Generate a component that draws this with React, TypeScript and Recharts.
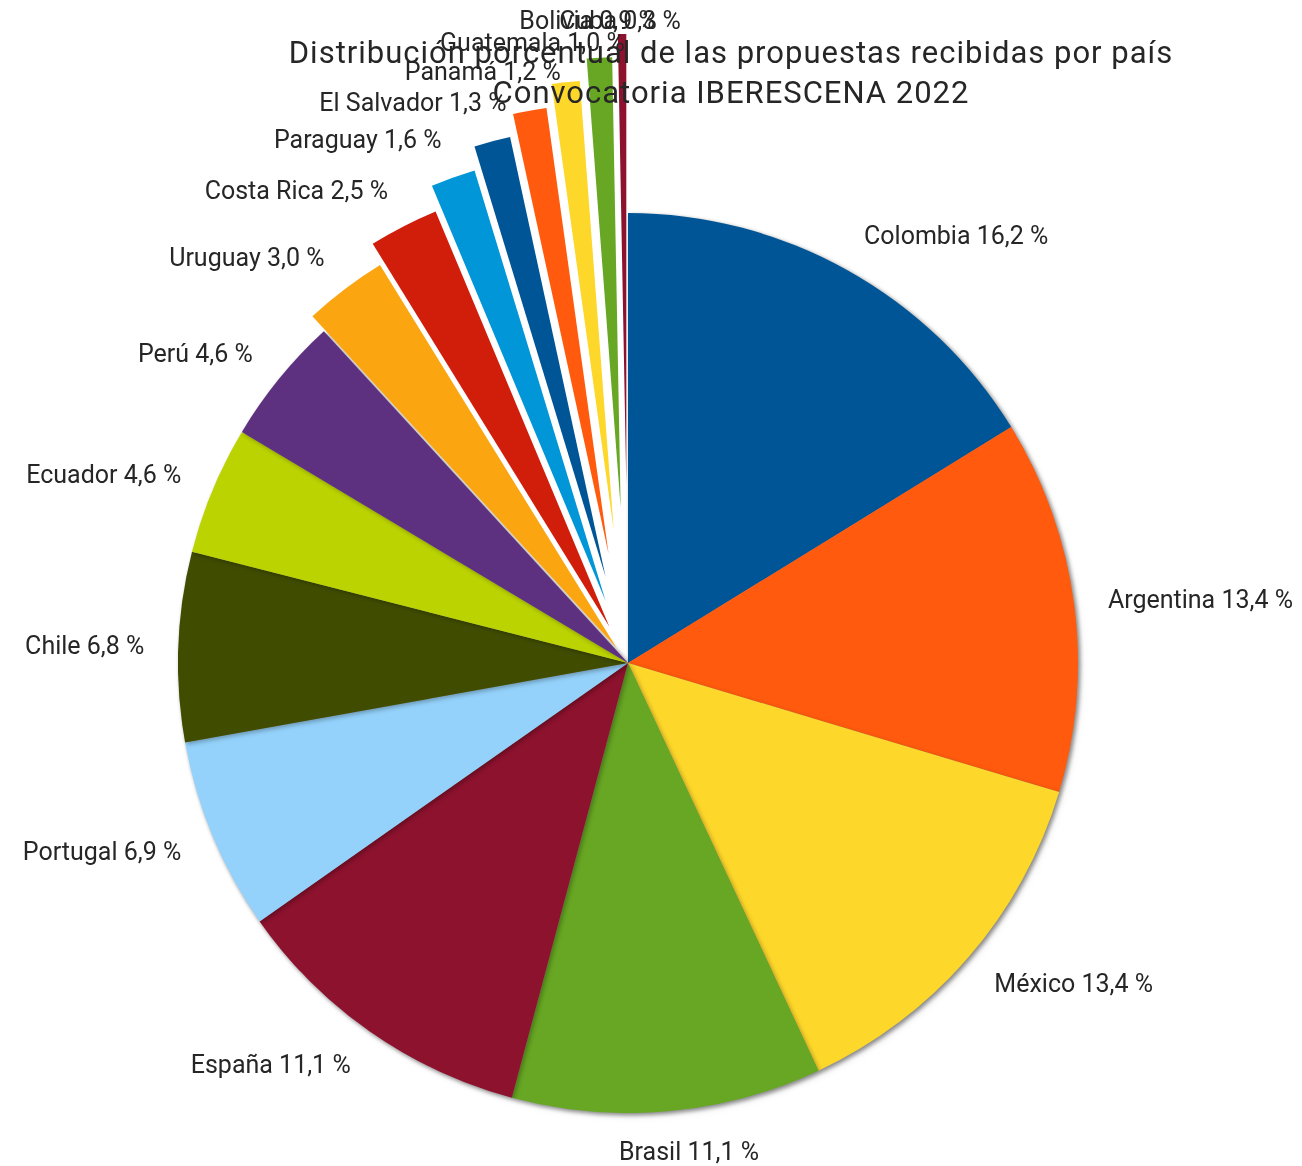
import React from 'react'
import { PieChart, Pie, Cell, Sector } from 'recharts'

const COUNTRIES = [
  'Colombia', 'Argentina', 'México', 'Brasil', 'España', 'Portugal', 'Chile', 'Ecuador', 'Perú',
  'Uruguay', 'Costa Rica', 'Paraguay', 'El Salvador', 'Panamá', 'Guatemala', 'Bolivia', 'Cuba',
]
const SHARES = [16.2, 13.4, 13.4, 11.1, 11.1, 6.9, 6.8, 4.6, 4.6, 3.0, 2.5, 1.6, 1.3, 1.2, 1.0, 0.9, 0.3]

const COLORS = [
  '#005596', '#ff5a0d', '#fdd72a', '#67a723', '#8d122e', '#94d2fb', '#404d00', '#bbd300', '#5d3180',
  '#fba511', '#d01e0b', '#0096d7', '#005596', '#ff5a0d', '#fdd72a', '#67a723', '#8d122e',
]
// how far each small slice is pulled out of the pie (px)
const EXPLODE = [0, 0, 0, 0, 0, 0, 0, 0, 0, 19, 41, 66, 89, 111, 134, 156, 179]

const TITLE_1 = 'Distribución porcentual de las propuestas recibidas por país'
const TITLE_2 = 'Convocatoria IBERESCENA 2022'

const data = COUNTRIES.map((name, i) => ({ name, value: SHARES[i] }))

const FONT = 'Roboto, "Noto Sans", sans-serif'
const LABEL_SIZE = 25
const LABEL_GAP = 34
const RAD = Math.PI / 180

let ctx: CanvasRenderingContext2D | null = null
function textWidth(s: string) {
  if (!ctx) ctx = document.createElement('canvas').getContext('2d')
  if (!ctx) return s.length * LABEL_SIZE * 0.5
  ctx.font = `${LABEL_SIZE}px Roboto`
  return ctx.measureText(s).width
}

const fmt = (v: number) => v.toFixed(1).replace('.', ',') + ' %'

// pulled-out slices, drawn with the angles the pie computed
function explodedSlice(props: any) {
  const { cx, cy, midAngle, innerRadius, outerRadius, startAngle, endAngle, index } = props
  const pull = EXPLODE[index]
  if (!pull) return <g key={index} />
  const ux = Math.cos(midAngle * RAD)
  const uy = -Math.sin(midAngle * RAD)
  return (
    <Sector
      key={index}
      cx={cx + ux * pull}
      cy={cy + uy * pull}
      innerRadius={innerRadius}
      outerRadius={outerRadius}
      startAngle={startAngle}
      endAngle={endAngle}
      fill={COLORS[index]}
      stroke="none"
    />
  )
}

function sliceLabel(props: any) {
  const { cx, cy, midAngle, outerRadius, index } = props
  const ux = Math.cos(midAngle * RAD)
  const uy = -Math.sin(midAngle * RAD)
  const r = outerRadius + EXPLODE[index] + LABEL_GAP
  const px = cx + ux * r
  const py = cy + uy * r
  const text = `${COUNTRIES[index]} ${fmt(SHARES[index])}`
  const w = textWidth(text)
  const s = Math.max(-1, Math.min(1, 3 * ux))
  const x = px + (s * w) / 2
  const y = Math.max(12, py + uy * 6)
  return (
    <text
      key={index}
      x={x}
      y={y}
      textAnchor="middle"
      dominantBaseline="central"
      fontFamily={FONT}
      fontSize={LABEL_SIZE}
      fill="#262626"
    >
      {text}
    </text>
  )
}

export default function App() {
  return (
    <div style={{ position: 'relative', width: 1294, height: 1158, background: '#fff' }}>
      <style>{`.main-pie { filter: drop-shadow(2px 2px 2px rgba(0,0,0,0.28)); }`}</style>
      <PieChart width={1294} height={1158} margin={{ top: 0, right: 0, bottom: 0, left: 0 }}>
        <Pie
          className="main-pie"
          data={data}
          dataKey="value"
          nameKey="name"
          cx={620}
          cy={655}
          outerRadius={450}
          startAngle={90}
          endAngle={-270}
          stroke="none"
          label={explodedSlice}
          labelLine={false}
          isAnimationActive={false}
        >
          {data.map((_, i) => (
            <Cell key={`cell-${i}`} fill={EXPLODE[i] ? 'transparent' : COLORS[i]} stroke="none" />
          ))}
        </Pie>
        <Pie
          data={data}
          dataKey="value"
          nameKey="name"
          cx={620}
          cy={655}
          outerRadius={450}
          startAngle={90}
          endAngle={-270}
          stroke="none"
          label={sliceLabel}
          labelLine={false}
          isAnimationActive={false}
        >
          {data.map((_, i) => (
            <Cell key={`lbl-${i}`} fill="transparent" stroke="none" />
          ))}
        </Pie>
      </PieChart>
      <svg width={1294} height={1158} style={{ position: 'absolute', left: 0, top: 0, pointerEvents: 'none' }}>
        <text x={723} y={55} textAnchor="middle" fontFamily={FONT} fontSize={31} letterSpacing={1} fill="#262626">
          {TITLE_1}
        </text>
        <text x={723} y={95} textAnchor="middle" fontFamily={FONT} fontSize={31} letterSpacing={1} fill="#262626">
          {TITLE_2}
        </text>
      </svg>
    </div>
  )
}
